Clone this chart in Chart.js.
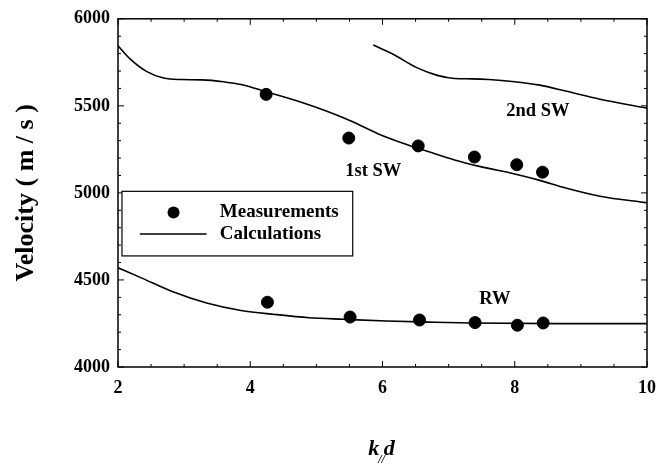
<!DOCTYPE html>
<html>
<head>
<meta charset="utf-8">
<script src="https://cdn.jsdelivr.net/npm/chart.js@4"></script>
<style>
  body { margin: 0; background: #fff; }
</style>
</head>
<body>
<canvas id="chart1" width="669" height="468"></canvas>
<script>
// measured points (k//d, velocity m/s)
const measX = [4.24, 5.49, 6.54, 7.39, 8.03, 8.42]
const meas1stSW = [5566, 5315, 5270, 5206, 5162, 5119]
const measRWX = [4.26, 5.51, 6.56, 7.40, 8.04, 8.43]
const measRW = [4372, 4287, 4270, 4255, 4240, 4253]

// calculated curves
const sw1X = [2, 2.17, 2.43, 2.69, 2.95, 3.27, 3.6, 3.86, 4.24, 4.76, 5.15, 5.54, 5.93, 6.31, 6.7, 7.09, 7.48, 8.0, 8.38, 8.77, 9.29, 10]
const sw1Y = [5845, 5774, 5698, 5660, 5651, 5649, 5638, 5623, 5581, 5522, 5470, 5410, 5340, 5285, 5236, 5189, 5151, 5109, 5072, 5028, 4981, 4943]
const sw2X = [5.86, 6.18, 6.51, 6.83, 7.09, 7.35, 7.61, 8.0, 8.38, 8.77, 9.29, 10]
const sw2Y = [5849, 5792, 5721, 5675, 5657, 5655, 5651, 5638, 5619, 5585, 5538, 5487]
const rwX = [2, 2.37, 2.82, 3.34, 3.86, 4.37, 4.89, 5.41, 6.06, 6.7, 7.35, 8.64, 10]
const rwY = [4570, 4509, 4434, 4368, 4325, 4302, 4283, 4274, 4264, 4258, 4253, 4249, 4249]

const xTicks = [2, 4, 6, 8, 10]
const yTicks = [4000, 4500, 5000, 5500, 6000]

const serif = '"Liberation Serif", "Times New Roman", serif'

function pts(xs, ys) {
  return xs.map((v, i) => ({x: v, y: ys[i]}))
}

function curve(xs, ys) {
  return {
    data: pts(xs, ys),
    borderColor: '#000',
    borderWidth: 1.6,
    pointRadius: 0,
    cubicInterpolationMode: 'monotone',
    showLine: true,
    fill: false
  }
}

function dots(xs, ys) {
  return {
    data: pts(xs, ys),
    showLine: false,
    pointRadius: 6,
    pointBackgroundColor: '#000',
    pointBorderColor: '#000',
    borderColor: '#000'
  }
}

// frame, inward ticks, curve labels, legend box and axis titles
const decorations = {
  id: 'decorations',
  afterDraw(chart) {
    const {ctx, chartArea: a, scales: {x, y}} = chart
    ctx.save()
    ctx.strokeStyle = '#000'
    ctx.lineWidth = 1.5
    ctx.strokeRect(a.left, a.top, a.right - a.left, a.bottom - a.top)

    ctx.lineWidth = 1
    ctx.beginPath()
    for (let v = 2; v <= 10.001; v += 0.5) {
      const px = x.getPixelForValue(v)
      const len = Math.abs(v % 2) < 0.01 ? 6 : 3
      ctx.moveTo(px, a.bottom); ctx.lineTo(px, a.bottom - len)
      ctx.moveTo(px, a.top); ctx.lineTo(px, a.top + len)
    }
    for (let v = 4000; v <= 6000; v += 100) {
      const py = y.getPixelForValue(v)
      const len = v % 500 === 0 ? 6 : 3
      ctx.moveTo(a.left, py); ctx.lineTo(a.left + len, py)
      ctx.moveTo(a.right, py); ctx.lineTo(a.right - len, py)
    }
    ctx.stroke()

    // curve labels
    ctx.fillStyle = '#000'
    ctx.font = 'bold 18.5px ' + serif
    ctx.textAlign = 'center'
    ctx.textBaseline = 'middle'
    ctx.fillText('2nd SW', x.getPixelForValue(8.35), y.getPixelForValue(5468))
    ctx.fillText('1st SW', x.getPixelForValue(5.86), y.getPixelForValue(5125))
    ctx.fillText('RW', x.getPixelForValue(7.7), y.getPixelForValue(4387))

    // legend
    const lx0 = x.getPixelForValue(2.06), lx1 = x.getPixelForValue(5.55)
    const ly0 = y.getPixelForValue(5009), ly1 = y.getPixelForValue(4638)
    ctx.fillStyle = '#fff'
    ctx.fillRect(lx0, ly0, lx1 - lx0, ly1 - ly0)
    ctx.lineWidth = 1.2
    ctx.strokeRect(lx0, ly0, lx1 - lx0, ly1 - ly0)
    ctx.fillStyle = '#000'
    ctx.beginPath()
    ctx.arc(x.getPixelForValue(2.84), y.getPixelForValue(4887), 6, 0, Math.PI * 2)
    ctx.fill()
    ctx.lineWidth = 1.6
    ctx.beginPath()
    ctx.moveTo(x.getPixelForValue(2.33), y.getPixelForValue(4764))
    ctx.lineTo(x.getPixelForValue(3.34), y.getPixelForValue(4764))
    ctx.stroke()
    ctx.font = 'bold 19px ' + serif
    ctx.textAlign = 'left'
    ctx.fillText('Measurements', x.getPixelForValue(3.54), y.getPixelForValue(4887))
    ctx.fillText('Calculations', x.getPixelForValue(3.54), y.getPixelForValue(4764))

    // axis titles
    ctx.save()
    ctx.translate(26, (a.top + a.bottom) / 2)
    ctx.rotate(-Math.PI / 2)
    ctx.textAlign = 'center'
    ctx.font = 'bold 26px ' + serif
    ctx.fillText('Velocity ( m / s )', 0, 0)
    ctx.restore()

    const cx = (a.left + a.right) / 2
    const ty = 449
    ctx.textAlign = 'left'
    ctx.font = 'italic bold 22px ' + serif
    const wk = ctx.measureText('k').width
    ctx.font = 'italic bold 12px ' + serif
    const ws = ctx.measureText('//').width
    ctx.font = 'italic bold 22px ' + serif
    const wd = ctx.measureText('d').width
    let sx = cx - (wk + ws + wd) / 2
    ctx.fillText('k', sx, ty)
    ctx.font = 'italic bold 12px ' + serif
    ctx.fillText('//', sx + wk - 1, ty + 11)
    ctx.font = 'italic bold 22px ' + serif
    ctx.fillText('d', sx + wk + ws - 2, ty)
    ctx.restore()
  }
}

const ctx1 = document.getElementById('chart1').getContext('2d')
const chart1 = new Chart(ctx1, {
  type: 'line',
  data: {
    datasets: [
      curve(sw1X, sw1Y),
      curve(sw2X, sw2Y),
      curve(rwX, rwY),
      dots(measX, meas1stSW),
      dots(measRWX, measRW)
    ]
  },
  options: {
    responsive: false,
    animation: false,
    layout: {
      padding: {top: 15, right: 22, left: 0, bottom: 0}
    },
    scales: {
      x: {
        type: 'linear',
        min: 2,
        max: 10,
        afterBuildTicks: s => { s.ticks = xTicks.map(v => ({value: v})) },
        afterFit: s => { s.height = 101 },
        grid: {display: false, drawTicks: false},
        border: {display: false},
        ticks: {
          color: '#000',
          padding: 11,
          maxRotation: 0,
          callback: v => String(v),
          font: {family: serif, size: 18, weight: 'bold'}
        }
      },
      y: {
        type: 'linear',
        min: 4000,
        max: 6000,
        afterBuildTicks: s => { s.ticks = yTicks.map(v => ({value: v})) },
        afterFit: s => { s.width = 118 },
        grid: {display: false, drawTicks: false},
        border: {display: false},
        ticks: {
          color: '#000',
          padding: 8,
          callback: v => String(v),
          font: {family: serif, size: 18, weight: 'bold'}
        }
      }
    },
    plugins: {
      legend: {display: false},
      tooltip: {enabled: false}
    }
  },
  plugins: [decorations]
})
</script>
</body>
</html>
